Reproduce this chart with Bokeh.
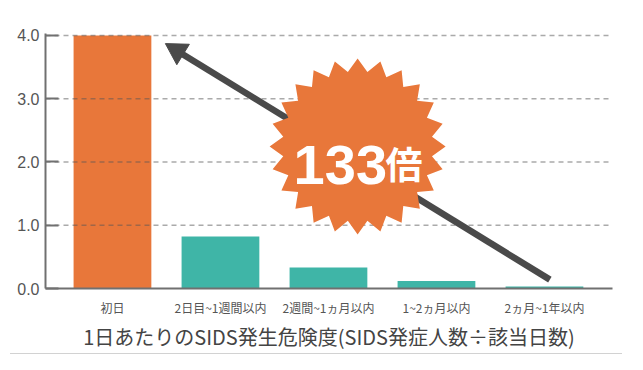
import numpy as np
from bokeh.plotting import figure
from bokeh.models import Range1d, FixedTicker, Div
from bokeh.layouts import column
from bokeh.core.properties import value
from bokeh.embed import file_html
from bokeh.resources import INLINE

# ---- data ----
categories = ["初日", "2日目~1週間以内", "2週間~1ヵ月以内", "1~2ヵ月以内", "2ヵ月~1年以内"]
risk_values = [4.0, 0.82, 0.33, 0.12, 0.03]
bar_colors = ["#E8773A", "#3FB5A7", "#3FB5A7", "#3FB5A7", "#3FB5A7"]
y_ticks = [0, 1, 2, 3, 4]
y_tick_labels = ["0.0", "1.0", "2.0", "3.0", "4.0"]
axis_title = "1日あたりのSIDS発生危険度(SIDS発症人数÷該当日数)"
ratio_number = "133"
ratio_unit = "倍"

FONT = "Noto Sans CJK JP"
NUM_FONT = "Liberation Sans"
ORANGE = "#E8773A"

# ---- layout ----
x_start, x_end = -0.62, 4.63
y_start, y_end = 0.0, 4.03
frame_w, frame_h = 567, 255
px_x = frame_w / (x_end - x_start)   # pixels per x unit
px_y = frame_h / (y_end - y_start)   # pixels per y unit

xs = list(range(len(categories)))

p = figure(
    output_backend="svg", toolbar_location=None,
    frame_width=frame_w, frame_height=frame_h,
    min_border_left=45, min_border_right=25, min_border_top=33, min_border_bottom=62,
    x_range=Range1d(x_start, x_end), y_range=Range1d(y_start, y_end),
    background_fill_color="white", border_fill_color="white",
)
p.outline_line_color = None
p.xgrid.visible = False
p.ygrid.visible = False

# bars
p.vbar(x=xs, top=risk_values, width=0.72, fill_color=bar_colors, line_color=None)

# dashed gridlines (drawn over bars, under the badge)
grid_y = y_ticks[1:]
p.segment(x0=[x_start] * len(grid_y), x1=[x_end] * len(grid_y), y0=grid_y, y1=grid_y,
          line_color="#555555", line_alpha=0.5, line_width=1.5, line_dash="5 4")

# arrow (annotation anchors in data units)
tip = (0.49, 3.87)
tail = (4.05, 0.14)
dxp = (tip[0] - tail[0]) * px_x
dyp = (tip[1] - tail[1]) * px_y
L = np.hypot(dxp, dyp)
ux, uy = dxp / L, dyp / L
ang = np.arctan2(uy, ux)
head_size = 24
head_h = head_size / 2 * np.sqrt(3)
cen_back = 2 * head_h / 3
shaft_end = (tip[0] - ux * (head_h - 2) / px_x, tip[1] - uy * (head_h - 2) / px_y)
p.segment(x0=[tail[0]], y0=[tail[1]], x1=[shaft_end[0]], y1=[shaft_end[1]],
          line_color="#4a4a4a", line_width=6.5, line_cap="butt")
p.scatter(x=[tip[0] - ux * cen_back / px_x], y=[tip[1] - uy * cen_back / px_y],
          marker="triangle", size=head_size, angle=ang - np.pi / 2,
          fill_color="#4a4a4a", line_color="#4a4a4a", line_width=1)

# starburst badge
cx, cy = 2.27, 2.245
n_pts = 24
R_out, R_in = 88, 75
th = np.linspace(0, 2 * np.pi, 2 * n_pts, endpoint=False) + np.pi / 2
rr = np.where(np.arange(2 * n_pts) % 2 == 0, R_out, R_in)
p.patch(x=cx + rr * np.cos(th) / px_x, y=cy + rr * np.sin(th) / px_y,
        fill_color=ORANGE, line_color=None)

p.text(x=[cx], y=[cy], text=[ratio_number], x_offset=-64, y_offset=19,
       text_font=value(NUM_FONT), text_font_style="bold", text_font_size="56px",
       text_color="white", text_align="left", text_baseline="alphabetic")
p.text(x=[cx], y=[cy], text=[ratio_unit], x_offset=28, y_offset=17,
       text_font=value(FONT), text_font_style="bold", text_font_size="37px",
       text_color="white", text_align="left", text_baseline="alphabetic")

# axes
p.yaxis.ticker = FixedTicker(ticks=y_ticks)
p.yaxis.major_label_overrides = {t: l for t, l in zip(y_ticks, y_tick_labels)}
p.yaxis.major_label_text_font = NUM_FONT
p.yaxis.major_label_text_font_size = "16px"
p.yaxis.major_label_text_color = "#555555"
p.yaxis.major_label_standoff = 6
p.yaxis.axis_line_color = "#707070"
p.yaxis.axis_line_width = 2
p.yaxis.major_tick_in = 13
p.yaxis.major_tick_out = 0
p.yaxis.major_tick_line_color = "#707070"
p.yaxis.major_tick_line_width = 2
p.yaxis.minor_tick_line_color = None

p.xaxis.ticker = FixedTicker(ticks=xs)
p.xaxis.major_label_overrides = {i: c for i, c in zip(xs, categories)}
p.xaxis.major_label_text_font = FONT
p.xaxis.major_label_text_font_size = "12px"
p.xaxis.major_label_text_color = "#555555"
p.xaxis.major_label_standoff = 4
p.xaxis.major_tick_line_color = None
p.xaxis.minor_tick_line_color = None
p.xaxis.axis_line_color = "#707070"
p.xaxis.axis_line_width = 2
p.xaxis.axis_label = axis_title
p.xaxis.axis_label_text_font = FONT
p.xaxis.axis_label_text_font_size = "20px"
p.xaxis.axis_label_text_font_style = "normal"
p.xaxis.axis_label_text_color = "#444444"
p.xaxis.axis_label_standoff = 3

divider = Div(text="", width=612, height=1, margin=(0, 0, 0, 10),
              styles={"border-top": "1px solid #d2d2d2"})

layout = column(p, divider, spacing=0)

open("out.html", "w").write(file_html(layout, INLINE))
